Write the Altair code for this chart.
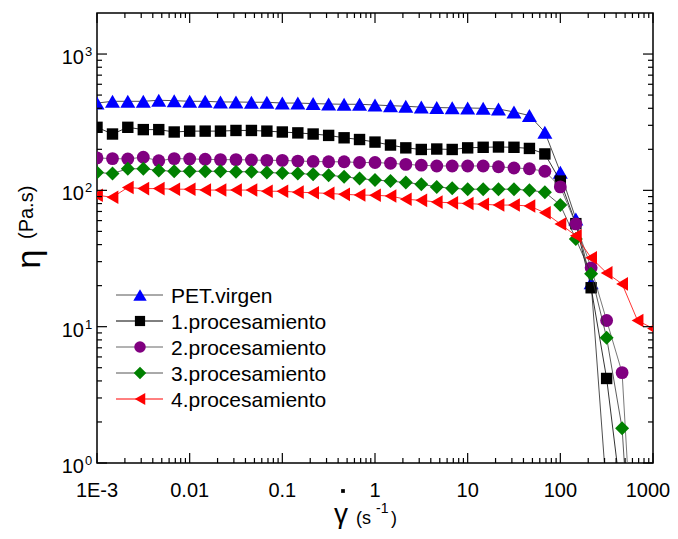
import altair as alt
import pandas as pd

# ---------------- data ----------------
shear_rate = [0.001, 0.00147, 0.00215, 0.00316, 0.00464, 0.00681,
              0.01, 0.0147, 0.0215, 0.0316, 0.0464, 0.0681,
              0.1, 0.147, 0.215, 0.316, 0.464, 0.681,
              1, 1.47, 2.15, 3.16, 4.64, 6.81,
              10, 14.7, 21.5, 31.6, 46.4, 68.1,
              100, 147, 215, 316, 464, 681, 1000]

series_names = ["PET.virgen", "1.procesamiento", "2.procesamiento",
                "3.procesamiento", "4.procesamiento"]

pet_virgen = [437, 450, 450, 450, 458, 455, 450, 450, 445, 445, 443, 443,
              437, 437, 433, 430, 428, 428, 423, 418, 414, 408, 405, 403,
              402, 400, 395, 376, 354, 267, 136, 61.7, 21.0, 0.6]
proc1 = [290, 259, 290, 279, 279, 268, 272, 272, 272, 275, 275, 272,
         268, 264, 259, 253, 243, 236, 226, 215, 205, 199.5, 201, 199.5,
         205, 207, 208, 207, 203, 185, 117, 57, 19.3, 4.17, 0.5]
proc2 = [173, 171, 170, 175, 165, 171, 170, 169, 168, 168, 167, 166,
         166, 164, 163, 162, 162, 160, 160, 158, 155, 153, 151, 151,
         151, 151, 149, 146, 144, 138, 106, 56.7, 27, 11.1, 4.6, 0.05]
proc3 = [135, 133, 144, 144, 140, 138, 138, 138, 138, 137, 137, 135,
         134, 133, 131, 129, 126, 122, 119, 117, 114, 111, 106, 103.5,
         102, 102, 102, 102, 100, 97, 78, 44, 24.4, 8.3, 1.8, 0.03]
proc4 = [92, 89, 105, 103, 103, 102, 102, 100.5, 100.5, 100.5, 100.5, 98.5,
         98.5, 97, 96, 95, 93.5, 92.4, 92, 90.8, 86, 84.5, 82, 81,
         80, 79, 78, 78, 76.8, 68.5, 56.7, 46.4, 32, 24.8, 20.6, 11.1, 9.7]

series_values = [pet_virgen, proc1, proc2, proc3, proc4]

x_tick_values = [0.001, 0.01, 0.1, 1, 10, 100, 1000]
x_tick_labels = ["1E-3", "0.01", "0.1", "1", "10", "100", "1000"]
y_tick_values = [1, 10, 100, 1000]
y_tick_exps = ["0", "1", "2", "3"]

# ---------------- style ----------------
shapes = ["triangle-up", "square", "circle", "diamond", "triangle-left"]
sizes = [225, 130, 165, 196, 185]
fills = ["#0000FF", "#000000", "#800080", "#008000", "#FF0000"]
line_cols = ["#222222", "#000000", "#555555", "#333333", "#FF0000"]
legend_line_cols = ["#555555", "#000000", "#666666", "#555555", "#FF0000"]
FONT = "Liberation Sans"

W, H = 556, 450
xscale = alt.Scale(type="log", domain=[0.001, 1000], nice=False)
yscale = alt.Scale(type="log", domain=[1, 2000], nice=False)

layers = []

# ---------------- data series ----------------
for name, vals, shp, sz, fc, lc in zip(series_names, series_values, shapes,
                                       sizes, fills, line_cols):
    df = pd.DataFrame({"x": shear_rate[:len(vals)], "y": vals})
    base = alt.Chart(df)
    layers.append(base.mark_line(color=lc, strokeWidth=0.8, clip=True).encode(
        x=alt.X("x:Q", scale=xscale, axis=None),
        y=alt.Y("y:Q", scale=yscale, axis=None)))
    layers.append(base.mark_point(shape=shp, size=sz, filled=True, fill=fc,
                                  opacity=1, strokeWidth=0, clip=True).encode(
        x=alt.X("x:Q", scale=xscale, axis=None),
        y=alt.Y("y:Q", scale=yscale, axis=None)))

# ---------------- inward ticks ----------------
x_minor = [k * 10.0 ** e for e in range(-3, 3) for k in range(2, 10)]
y_minor = [k * 10.0 ** e for e in range(0, 3) for k in range(2, 10)]

xmaj = alt.Chart(pd.DataFrame({"t": x_tick_values}))
xmin = alt.Chart(pd.DataFrame({"t": x_minor}))
ymaj = alt.Chart(pd.DataFrame({"t": y_tick_values}))
ymin = alt.Chart(pd.DataFrame({"t": y_minor}))

tk = dict(color="black", strokeWidth=1.2)
for ch, L in ((xmaj, 10), (xmin, 5)):
    layers.append(ch.mark_rule(**tk).encode(
        x=alt.X("t:Q", scale=xscale, axis=None),
        y=alt.value(H), y2=alt.value(H - L)))
    layers.append(ch.mark_rule(**tk).encode(
        x=alt.X("t:Q", scale=xscale, axis=None),
        y=alt.value(0), y2=alt.value(L)))
for ch, L in ((ymaj, 10), (ymin, 5)):
    layers.append(ch.mark_rule(**tk).encode(
        y=alt.Y("t:Q", scale=yscale, axis=None),
        x=alt.value(0), x2=alt.value(L)))
    layers.append(ch.mark_rule(**tk).encode(
        y=alt.Y("t:Q", scale=yscale, axis=None),
        x=alt.value(W), x2=alt.value(W - L)))

# ---------------- tick labels ----------------
xl = alt.Chart(pd.DataFrame({"t": x_tick_values, "lab": x_tick_labels}))
layers.append(xl.transform_filter("datum.t < 500").mark_text(
    font=FONT, fontSize=20, align="center", baseline="alphabetic",
    color="black").encode(
    x=alt.X("t:Q", scale=xscale, axis=None), y=alt.value(H + 34),
    text="lab:N"))
layers.append(xl.transform_filter("datum.t > 500").mark_text(
    font=FONT, fontSize=20, align="center", baseline="alphabetic", dx=-5,
    color="black").encode(
    x=alt.X("t:Q", scale=xscale, axis=None), y=alt.value(H + 34),
    text="lab:N"))

yl = alt.Chart(pd.DataFrame({"t": y_tick_values, "e": y_tick_exps,
                             "b": ["10"] * len(y_tick_values)}))
layers.append(yl.mark_text(font=FONT, fontSize=20, align="right",
                           baseline="alphabetic", dy=10, color="black").encode(
    y=alt.Y("t:Q", scale=yscale, axis=None), x=alt.value(-13), text="b:N"))
layers.append(yl.mark_text(font=FONT, fontSize=13, align="left",
                           baseline="alphabetic", dy=2, color="black").encode(
    y=alt.Y("t:Q", scale=yscale, axis=None), x=alt.value(-12), text="e:N"))

# ---------------- axis titles ----------------
one = alt.Data(values=[{}])
def txt(s, x, y, size, **kw):
    return alt.Chart(one).mark_text(text=s, font=FONT, fontSize=size,
                                    color="black", **kw).encode(
        x=alt.value(x), y=alt.value(y))

layers.append(txt("γ", 244, 510, 28, align="center", baseline="alphabetic"))
layers.append(txt("(s", 259, 511, 18, align="left", baseline="alphabetic"))
layers.append(txt("-1", 279, 500, 14, align="left", baseline="alphabetic"))
layers.append(txt(")", 294, 511, 18, align="left", baseline="alphabetic"))
layers.append(txt("η", -57, 246, 34, align="center", baseline="alphabetic",
                  angle=270))
layers.append(txt("(Pa.s)", -64, 226, 20, align="left", baseline="alphabetic",
                  angle=270))
layers.append(alt.Chart(one).mark_point(shape="square", size=14, filled=True,
                                        fill="black", opacity=1).encode(
    x=alt.value(246), y=alt.value(478)))

# ---------------- legend ----------------
for i, (name, shp, sz, fc, lc) in enumerate(zip(series_names, shapes, sizes,
                                                fills, legend_line_cols)):
    yy = 282 + 26 * i
    layers.append(alt.Chart(one).mark_rule(color=lc, strokeWidth=1).encode(
        x=alt.value(19), x2=alt.value(66), y=alt.value(yy)))
    layers.append(alt.Chart(one).mark_point(shape=shp, size=sz * 0.8,
                                            filled=True, fill=fc, opacity=1,
                                            strokeWidth=0).encode(
        x=alt.value(43), y=alt.value(yy)))
    layers.append(txt(name, 74, yy + 7.5, 21, align="left",
                      baseline="alphabetic"))

chart = alt.layer(*layers).properties(
    width=W, height=H,
    padding={"left": 89, "top": 5, "right": 17, "bottom": 68},
    autosize=alt.AutoSizeParams(type="none"),
).configure_view(stroke="black", strokeWidth=1.5)

chart.save("out.html", embed_options={"renderer": "svg", "actions": False})
